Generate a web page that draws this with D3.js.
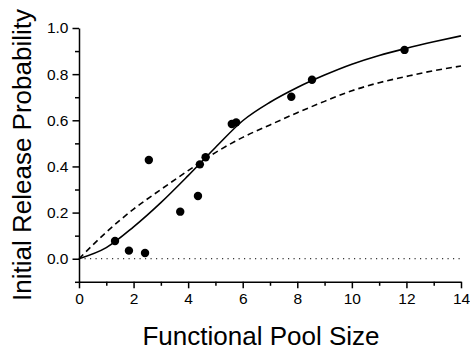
<!DOCTYPE html>
<html>
<head>
<meta charset="utf-8">
<script src="https://cdn.jsdelivr.net/npm/d3@7"></script>
<style>
  html, body { margin: 0; padding: 0; background: #fff; }
  svg { display: block; }
  text { font-family: "Liberation Sans", Arial, sans-serif; fill: #000; }
</style>
</head>
<body>
<svg id="chart" width="470" height="350"></svg>
<script>
// Measured points: functional pool size vs initial release probability
const poolSize = [1.32, 1.83, 2.42, 2.56, 3.71, 4.36, 4.43, 4.64, 5.6, 5.76, 7.78, 8.54, 11.93];
const releaseProb = [0.077, 0.035, 0.025, 0.428, 0.204, 0.272, 0.409, 0.44, 0.584, 0.591, 0.702, 0.776, 0.905];

// Fitted curves, sampled along the pool size axis
const fitX = [0, 1, 2, 3, 4, 5, 6, 7, 8, 9, 10, 11, 12, 13, 14];
const fitSolid = [0, 0.048, 0.138, 0.243, 0.36, 0.482, 0.598, 0.678, 0.742, 0.796, 0.843, 0.881, 0.912, 0.94, 0.966];
const fitDashed = [0, 0.115, 0.215, 0.30, 0.382, 0.46, 0.526, 0.58, 0.633, 0.682, 0.728, 0.763, 0.79, 0.815, 0.835];

// Axis ticks
const xMajor = [0, 2, 4, 6, 8, 10, 12, 14];
const xMinor = [1, 3, 5, 7, 9, 11, 13];
const yMajor = [0, 0.2, 0.4, 0.6, 0.8, 1.0];
const yMinor = [-0.1, 0.1, 0.3, 0.5, 0.7, 0.9];

const svg = d3.select("#chart");
const x = d3.scaleLinear().domain([0, 14]).range([79, 461]);
const y = d3.scaleLinear().domain([-0.1, 1.0]).range([281.8, 28]);

// x axis
svg.append("g").attr("transform", `translate(0,${y(-0.1)})`)
  .call(d3.axisBottom(x).tickValues(xMajor).tickSize(6.5).tickSizeOuter(0)
    .tickPadding(5).tickFormat(d3.format("d")));
svg.append("g").attr("transform", `translate(0,${y(-0.1)})`)
  .call(d3.axisBottom(x).tickValues(xMinor).tickSize(4).tickSizeOuter(0).tickFormat(""))
  .select(".domain").remove();

// y axis
svg.append("g").attr("transform", `translate(${x(0)},0)`)
  .call(d3.axisLeft(y).tickValues(yMajor).tickSize(6.5).tickSizeOuter(0)
    .tickPadding(4).tickFormat(d3.format(".1f")));
svg.append("g").attr("transform", `translate(${x(0)},0)`)
  .call(d3.axisLeft(y).tickValues(yMinor).tickSize(4).tickSizeOuter(0).tickFormat(""))
  .select(".domain").remove();

svg.selectAll(".domain, .tick line").attr("stroke", "#000").attr("stroke-width", 1.5);
svg.selectAll(".tick text").style("font-size", "15.5px").attr("fill", "#000");

// zero reference line
svg.append("line")
  .attr("x1", x(0)).attr("x2", x(14))
  .attr("y1", y(0)).attr("y2", y(0))
  .attr("stroke", "#000").attr("stroke-width", 1)
  .attr("stroke-dasharray", "1.2,4.3");

const line = (ys) => d3.line().curve(d3.curveMonotoneX)
  .x((d, i) => x(fitX[i])).y(d => y(d))(ys);

svg.append("path").attr("d", line(fitDashed))
  .attr("fill", "none").attr("stroke", "#000").attr("stroke-width", 1.6)
  .attr("stroke-dasharray", "6,4");
svg.append("path").attr("d", line(fitSolid))
  .attr("fill", "none").attr("stroke", "#000").attr("stroke-width", 1.6);

// data points
svg.append("g").selectAll("circle")
  .data(poolSize)
  .join("circle")
  .attr("cx", d => x(d))
  .attr("cy", (d, i) => y(releaseProb[i]))
  .attr("r", 4.2)
  .attr("fill", "#000");

// axis titles
svg.append("text")
  .attr("x", 261).attr("y", 345)
  .attr("text-anchor", "middle")
  .style("font-size", "26px")
  .text("Functional Pool Size");

svg.append("text")
  .attr("transform", "translate(31,155) rotate(-90)")
  .attr("text-anchor", "middle")
  .style("font-size", "26px")
  .text("Initial Release Probability");
</script>
</body>
</html>
